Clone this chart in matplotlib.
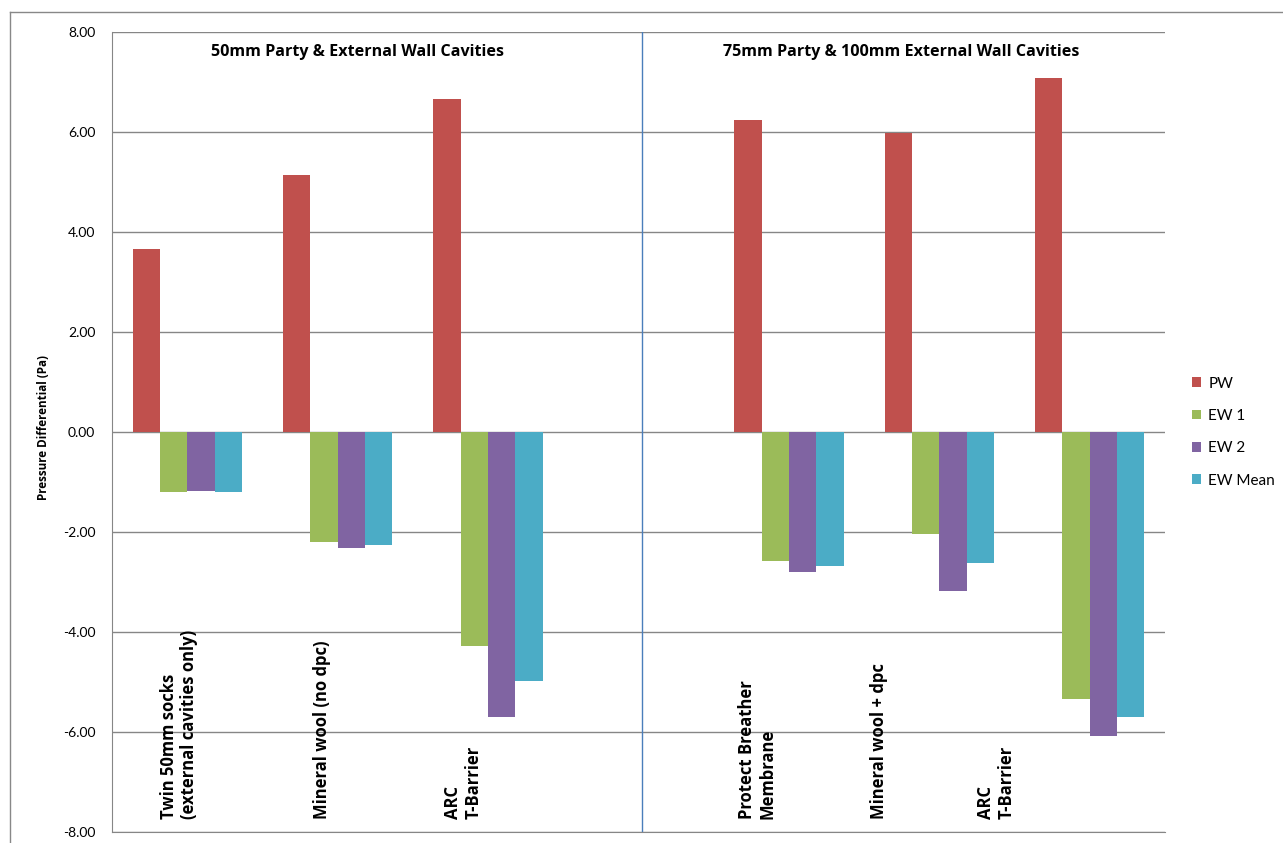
import numpy as np
import matplotlib
matplotlib.use('Agg')
import matplotlib.pyplot as plt
from matplotlib.lines import Line2D

plt.rcParams['font.family'] = ['Lato', 'DejaVu Sans']
BOLD = ['Open Sans', 'DejaVu Sans']

# data
categories = ['Twin 50mm socks\n(external cavities only)', 'Mineral wool (no dpc)', 'ARC\nT-Barrier',
              '', 'Protect Breather\nMembrane', 'Mineral wool + dpc', 'ARC\nT-Barrier']
series = ['PW', 'EW 1', 'EW 2', 'EW Mean']
pw = [3.67, 5.14, 6.66, np.nan, 6.25, 5.99, 7.08]
ew1 = [-1.20, -2.20, -4.27, np.nan, -2.57, -2.04, -5.33]
ew2 = [-1.18, -2.31, -5.69, np.nan, -2.79, -3.18, -6.07]
ew_mean = [-1.19, -2.25, -4.98, np.nan, -2.68, -2.61, -5.69]
group_titles = ['50mm Party & External Wall Cavities', '75mm Party & 100mm External Wall Cavities']
yticks = [-8, -6, -4, -2, 0, 2, 4, 6, 8]

colors = ['#C0504D', '#9BBB59', '#8064A2', '#4BACC6']
# manual label shifts (text boxes in the original sit left of the category centre)
label_shift = [-0.055, -0.104, -0.166, 0, -0.21, -0.40, -0.62]

fig = plt.figure(figsize=(12.83, 8.43), dpi=100)
ax = fig.add_axes([112/1283, 1-832/843, (1165-112)/1283, 800/843])

x = np.arange(len(categories))
w = 0.727 / 4
for i, (vals, c, name) in enumerate(zip([pw, ew1, ew2, ew_mean], colors, series)):
    ax.bar(x + (i - 1.5) * w, vals, w, color=c, label=name, zorder=3)

ax.set_xlim(-0.5, len(categories) - 0.5)
ax.set_ylim(-8, 8)
ax.set_yticks(yticks)
ax.set_yticklabels(['%.2f' % v for v in yticks], fontsize=10)
ax.tick_params(axis='y', length=0, pad=12)
ax.set_xticks([])
ax.grid(axis='y', color='#868686', linewidth=1.0, zorder=0)
for s in ['top', 'right']:
    ax.spines[s].set_visible(False)
ax.spines['left'].set_color('#868686')
ax.spines['bottom'].set_color('#868686')

# divider between the two wall groups
ax.axvline(3.02, color='#4A7EBB', linewidth=1.0, zorder=2)

for xi, lab, sh in zip(x, categories, label_shift):
    if lab:
        ax.text(xi + sh, -7.74, lab, rotation=90, ha='center', va='bottom', family=BOLD,
                multialignment='left', fontsize=12, fontweight='bold', zorder=4)

ax.text(1.135, 7.6, group_titles[0], ha='center', va='center', family=BOLD, fontsize=11.6, fontweight='bold')
ax.text(4.745, 7.6, group_titles[1], ha='center', va='center', family=BOLD, fontsize=11.6, fontweight='bold')

fig.text(44/1283, 1-427/843, 'Pressure Differential (Pa)', rotation=90, ha='center', va='center',
         family=BOLD, fontsize=8.4, fontweight='bold')

ax.legend(loc='center left', bbox_to_anchor=(1.018, 0.5), frameon=False, prop={'size': 11},
          handlelength=0.6, handleheight=0.6, handletextpad=0.5, labelspacing=1.2, borderpad=0)

# outer chart border (runs off the right and bottom edges)
fig.add_artist(Line2D([10/1283, 10/1283], [0, 1-12/843], color='#888888', linewidth=1.0))
fig.add_artist(Line2D([10/1283, 1], [1-12/843, 1-12/843], color='#888888', linewidth=1.0))

plt.savefig('out.png', dpi=100)
